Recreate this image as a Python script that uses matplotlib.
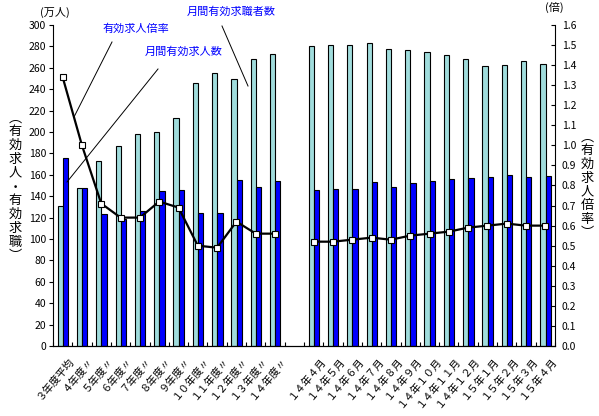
import matplotlib
matplotlib.use("Agg")
import matplotlib.pyplot as plt
import numpy as np

plt.rcParams['font.family'] = ['Noto Sans CJK JP', 'DejaVu Sans']

categories = ["３年度平均", "４年度〃", "５年度〃", "６年度〃", "７年度〃", "８年度〃",
              "９年度〃", "１０年度〃", "１１年度〃", "１２年度〃", "１３年度〃", "１４年度〃",
              "",
              "１４年４月", "１４年５月", "１４年６月", "１４年７月", "１４年８月", "１４年９月",
              "１４年１０月", "１４年１１月", "１４年１２月", "１５年１月", "１５年２月",
              "１５年３月", "１５年４月"]

# 月間有効求職者数 (万人)
job_seekers = [131, 148, 173, 187, 198, 200, 213, 246, 255, 250, 268, 273, np.nan,
               280, 281, 281, 283, 278, 277, 275, 272, 268, 262, 263, 266, 264]
# 月間有効求人数 (万人)
job_offers = [176, 148, 123, 119, 126, 145, 146, 124, 124, 155, 149, 154, np.nan,
              146, 147, 147, 153, 149, 152, 154, 156, 157, 158, 160, 158, 159]
# 有効求人倍率 (倍)
ratio = [1.34, 1.00, 0.71, 0.64, 0.64, 0.72, 0.69, 0.50, 0.49, 0.62, 0.56, 0.56, np.nan,
         0.52, 0.52, 0.53, 0.54, 0.53, 0.55, 0.56, 0.57, 0.59, 0.60, 0.61, 0.60, 0.60]

light = "#A0DCDC"
dark = "#0000FF"

fig = plt.figure(figsize=(5.99, 4.16), dpi=100)
ax = fig.add_axes([53/599, 1-346/416, (555-53)/599, (346-25)/416])
ax2 = ax.twinx()

x = np.arange(len(categories))
ax.bar(x - 0.125, job_seekers, width=0.27, color=light, edgecolor="black", linewidth=0.8, zorder=2)
ax.bar(x + 0.145, job_offers, width=0.27, color=dark, edgecolor="black", linewidth=0.8, zorder=2)

ax.set_xlim(-0.5, len(categories) - 0.5)
ax.set_ylim(0, 300)
ax.set_yticks(np.arange(0, 301, 20))
ax.tick_params(axis='y', direction='out', length=3, labelsize=7.5, pad=2)
ax.set_xticks(np.arange(-0.5, len(categories), 1))
ax.set_xticklabels([])
ax.tick_params(axis='x', direction='in', length=3)
ax.spines['top'].set_visible(False)
ax.spines['right'].set_visible(False)

ax2.plot(x, ratio, color="black", linewidth=1.6, marker="s", markersize=4.2,
         markerfacecolor="white", markeredgecolor="black", markeredgewidth=0.8, zorder=3)
ax2.set_ylim(0, 1.6)
ax2.set_yticks(np.arange(0, 1.61, 0.1))
ax2.set_yticklabels([f"{v:.1f}" for v in np.arange(0, 1.61, 0.1)])
ax2.tick_params(axis='y', direction='in', length=3, labelsize=7.5, pad=5)
ax2.spines['top'].set_visible(False)
ax2.spines['left'].set_visible(False)

# category labels
for i, lab in enumerate(categories):
    if lab:
        ax.text(i + 0.3, -9, lab, rotation=50, ha='right', va='top',
                rotation_mode='anchor', fontsize=7.5)

# units
fig.text(40/599, 1-12/416, "(万人)", fontsize=8, va='center', ha='left')
fig.text(545/599, 1-7/416, "(倍)", fontsize=8, va='center', ha='left')

# vertical axis titles
left_title = "︵有効求人・有効求職︶"
fig.text(15/599, 1-187/416, "\n".join(left_title), fontsize=9.5, ha='center', va='center',
         linespacing=1.08)
right_title = "︵有効求人倍率︶"
fig.text(587/599, 1-185/416, "\n".join(right_title), fontsize=9.5, ha='center', va='center',
         linespacing=1.08)

# annotations
fig.text(102/599, 1-29/416, "有効求人倍率", fontsize=8, color=dark, va='center', ha='left')
fig.text(145/599, 1-52/416, "月間有効求人数", fontsize=8, color=dark, va='center', ha='left')
fig.text(187/599, 1-12/416, "月間有効求職者数", fontsize=8, color=dark, va='center', ha='left')

def fline(x0, y0, x1, y1):
    fig.add_artist(plt.Line2D([x0/599, x1/599], [1-y0/416, 1-y1/416],
                              color="black", linewidth=0.7))

fline(112, 42, 74, 117)
fline(158, 69, 67, 182)
fline(222, 26, 248, 86)

fig.savefig("out.png", dpi=100)
